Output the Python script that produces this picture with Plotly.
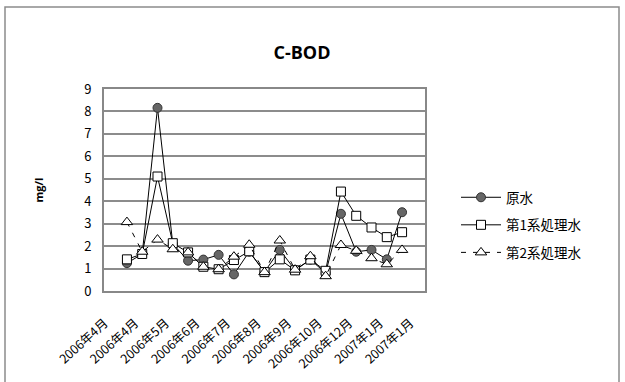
import plotly.graph_objects as go

# Sample positions along the category axis (blank cells at both ends)
sample_idx = list(range(21))
tick_idx = list(range(0, 21, 2))
tick_labels = ["2006年4月", "2006年4月", "2006年5月", "2006年6月", "2006年7月",
               "2006年8月", "2006年9月", "2006年10月", "2006年12月", "2007年1月", "2007年1月"]

raw_water = [None, 1.24, 1.65, 8.16, 2.10, 1.35, 1.40, 1.61, 0.74, 1.75, 0.85,
             1.83, 0.94, 1.40, 0.80, 3.44, 1.75, 1.83, 1.41, 3.51, None]
system1 = [None, 1.41, 1.65, 5.10, 2.13, 1.72, 1.08, 0.97, 1.38, 1.77, 0.84,
           1.41, 0.92, 1.40, 0.90, 4.43, 3.35, 2.83, 2.40, 2.62, None]
system2 = [None, 3.07, 1.75, 2.29, 1.86, 1.72, 1.08, 0.97, 1.53, 2.06, 0.84,
           2.25, 0.95, 1.55, 0.66, 2.05, 1.79, 1.46, 1.19, 1.83, None]

series_names = ["原水", "第1系処理水", "第2系処理水"]

FIG_W, FIG_H = 625, 382
L, R, T, B = 104, 200, 89, 91
PW, PH = FIG_W - L - R, FIG_H - T - B

cjk = "Noto Sans CJK JP"

fig = go.Figure()
fig.add_trace(go.Scatter(
    x=sample_idx, y=raw_water, name=series_names[0], mode="lines+markers",
    line=dict(color="black", width=1),
    marker=dict(symbol="circle", size=9, color="#666666", line=dict(color="#333333", width=1)),
    legendgroup="a"))
fig.add_trace(go.Scatter(
    x=sample_idx, y=system1, name=series_names[1], mode="lines+markers",
    line=dict(color="black", width=1),
    marker=dict(symbol="square", size=9, color="white", line=dict(color="black", width=1)),
    legendgroup="b"))
fig.add_trace(go.Scatter(
    x=sample_idx, y=system2, name=series_names[2], mode="lines+markers",
    line=dict(color="black", width=1, dash="5px,7px"),
    marker=dict(symbol="triangle-up", size=10, color="white", line=dict(color="black", width=1)),
    legendgroup="c"))

def px_x(px):
    return (px - L) / PW

def px_y(py):
    return (FIG_H - B - py) / PH

fig.update_layout(
    width=FIG_W, height=FIG_H,
    margin=dict(l=L, r=R, t=T, b=B, autoexpand=False),
    paper_bgcolor="white", plot_bgcolor="white",
    title=dict(text="<b>C-BOD</b>", x=px_x(302), xref="paper", xanchor="center",
               y=1 - 53 / FIG_H, yanchor="middle",
               font=dict(family="Open Sans", size=18, color="black")),
    showlegend=True,
    legend=dict(x=px_x(456), y=px_y(182), xanchor="left", yanchor="top",
                traceorder="grouped", tracegroupgap=7,
                font=dict(family=cjk, size=13.5, color="black"),
                bgcolor="rgba(0,0,0,0)", itemwidth=40),
    xaxis=dict(range=[-0.5, 20.5], tickmode="array", tickvals=tick_idx, ticktext=tick_labels,
               tickangle=-42, tickfont=dict(family=cjk, size=12.5, color="black"),
               ticklabelshift=-7, ticklabelstandoff=18, automargin=False,
               showgrid=False, zeroline=False, showline=True, mirror=True,
               linecolor="#888888", linewidth=2, ticks=""),
    yaxis=dict(range=[0, 9], dtick=1, tickfont=dict(family=cjk, size=13, color="black"),
               ticklabelstandoff=8, automargin=False,
               showgrid=True, gridcolor="#8c8c8c", gridwidth=1.5, zeroline=False,
               showline=True, mirror=True, linecolor="#888888", linewidth=2, ticks="",
               title=dict(text="<b>mg/l</b>", font=dict(family="Open Sans", size=11, color="black"),
                          standoff=38)),
    shapes=[dict(type="rect", xref="paper", yref="paper",
                 x0=px_x(5), x1=px_x(619), y0=px_y(390), y1=px_y(7),
                 line=dict(color="#8c8c8c", width=1.5), fillcolor="rgba(0,0,0,0)", layer="below")],
)

fig.write_html("out.html")
